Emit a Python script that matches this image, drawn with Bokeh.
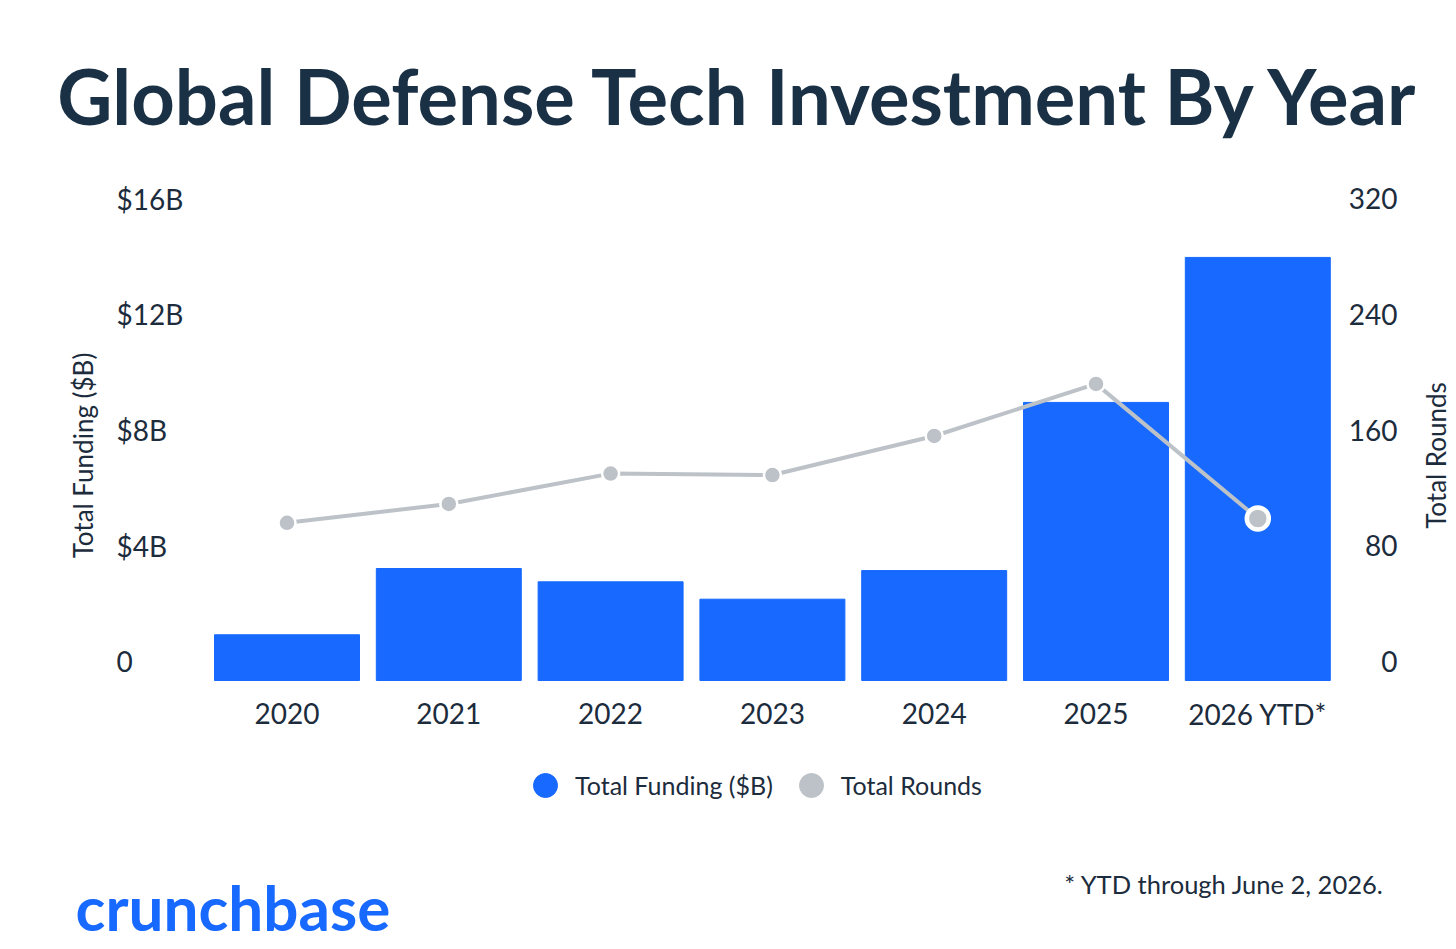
from math import pi

from bokeh.embed import file_html
from bokeh.models import Label, Legend, LegendItem, Range1d
from bokeh.plotting import figure
from bokeh.resources import INLINE

# Data
years = ["2020", "2021", "2022", "2023", "2024", "2025", "2026 YTD*"]
funding_b = [1.58, 3.87, 3.41, 2.81, 3.80, 9.61, 14.62]
rounds = [109, 122, 143, 142, 169, 205, 112]

funding_ticks = [0, 4, 8, 12, 16]
funding_tick_labels = ["0", "$4B", "$8B", "$12B", "$16B"]
rounds_ticks = [0, 80, 160, 240, 320]
rounds_tick_labels = ["0", "80", "160", "240", "320"]

BLUE = "#1769ff"
GREY = "#bcc2c7"
INK = "#1c2c3c"
TITLE_INK = "#1a3044"
FONT = "Lato"

W, H = 1456, 949
# layout of the data area in canvas pixels: the whole canvas is the frame,
# so every text can sit inside it without being clipped
X_FIRST, X_STEP = 286.5, 161.8      # centre of first bar, distance between bars
Y_ZERO, PX_PER_B = 269.0, 463 / 16  # height of the zero line above canvas bottom

x_pos = list(range(len(years)))
x_range = Range1d(-X_FIRST / X_STEP, (W - X_FIRST) / X_STEP)
y_range = Range1d(-Y_ZERO / PX_PER_B, (H - Y_ZERO) / PX_PER_B)
scale = rounds_ticks[-1] / funding_ticks[-1]

p = figure(width=W, height=H, x_range=x_range, y_range=y_range,
           x_axis_location=None, y_axis_location=None, toolbar_location=None, tools="",
           output_backend="svg", min_border=0, outline_line_color=None)
p.extra_y_ranges = {"rounds": Range1d(y_range.start * scale, y_range.end * scale)}
p.xgrid.grid_line_color = None
p.ygrid.grid_line_color = None

p.vbar(x=x_pos, top=funding_b, width=0.896, color=BLUE)
p.line(x=x_pos, y=rounds, y_range_name="rounds", line_color=GREY, line_width=4)
p.scatter(x=x_pos[:-1], y=rounds[:-1], y_range_name="rounds", size=17,
          fill_color=GREY, line_color="white", line_width=2.5)
p.scatter(x=x_pos[-1:], y=rounds[-1:], y_range_name="rounds", size=22,
          fill_color=GREY, line_color="white", line_width=4.5)

# category labels under the bars
p.text(x=x_pos, y=[0] * len(years), text=years, y_offset=33, text_align="center",
       text_baseline="middle", text_font={"value": FONT}, text_font_size="28px",
       text_color=INK)

# tick labels sit just above their value, left aligned on the left side
for v, t in zip(funding_ticks, funding_tick_labels):
    p.add_layout(Label(x=116, x_units="screen", y=v, y_offset=19, text=t,
                       text_align="left", text_baseline="middle",
                       text_font=FONT, text_font_size="28px", text_color=INK))
for v, t in zip(rounds_ticks, rounds_tick_labels):
    p.add_layout(Label(x=1397, x_units="screen", y=v, y_range_name="rounds",
                       y_offset=19, text=t, text_align="right", text_baseline="middle",
                       text_font=FONT, text_font_size="28px", text_color=INK))

p.add_layout(Label(x=82, y=494, x_units="screen", y_units="screen", angle=pi / 2,
                   text="Total Funding ($B)", text_align="center", text_baseline="middle",
                   text_font=FONT, text_font_size="26px", text_color=INK))
p.add_layout(Label(x=1435, y=494, x_units="screen", y_units="screen", angle=pi / 2,
                   text="Total Rounds", text_align="center", text_baseline="middle",
                   text_font=FONT, text_font_size="26px", text_color=INK))

# title, logo and footnote
p.add_layout(Label(x=739.5, y=854, x_units="screen", y_units="screen",
                   text="Global Defense Tech Investment By Year", text_align="center",
                   text_baseline="middle", text_font=FONT, text_font_style="bold",
                   text_font_size="76px", text_color=TITLE_INK))
p.add_layout(Label(x=75, y=43, x_units="screen", y_units="screen", text="crunchbase",
                   text_align="left", text_baseline="middle", text_font=FONT,
                   text_font_style="bold", text_font_size="62px", text_color=BLUE))
p.add_layout(Label(x=1384, y=66, x_units="screen", y_units="screen",
                   text="* YTD through June 2, 2026.", text_align="right",
                   text_baseline="middle", text_font=FONT, text_font_size="25.5px",
                   text_color=INK))

# legend with round swatches for both series (hidden renderers only feed the legend)
dot_funding = p.scatter(x=x_pos, y=funding_b, size=24, color=BLUE, visible=False)
dot_rounds = p.scatter(x=x_pos, y=rounds, y_range_name="rounds", size=24, color=GREY,
                       visible=False)
legend = Legend(items=[LegendItem(label="Total Funding ($B)", renderers=[dot_funding]),
                       LegendItem(label="Total Rounds", renderers=[dot_rounds])],
                orientation="horizontal", location=(515, 134), glyph_width=60,
                glyph_height=60, label_standoff=-5, spacing=8, padding=0, margin=0,
                border_line_color=None, background_fill_alpha=0, inactive_fill_alpha=0,
                label_text_font=FONT, label_text_font_size="25px", label_text_color=INK)
p.add_layout(legend, "center")

open("out.html", "w").write(file_html(p, INLINE))
